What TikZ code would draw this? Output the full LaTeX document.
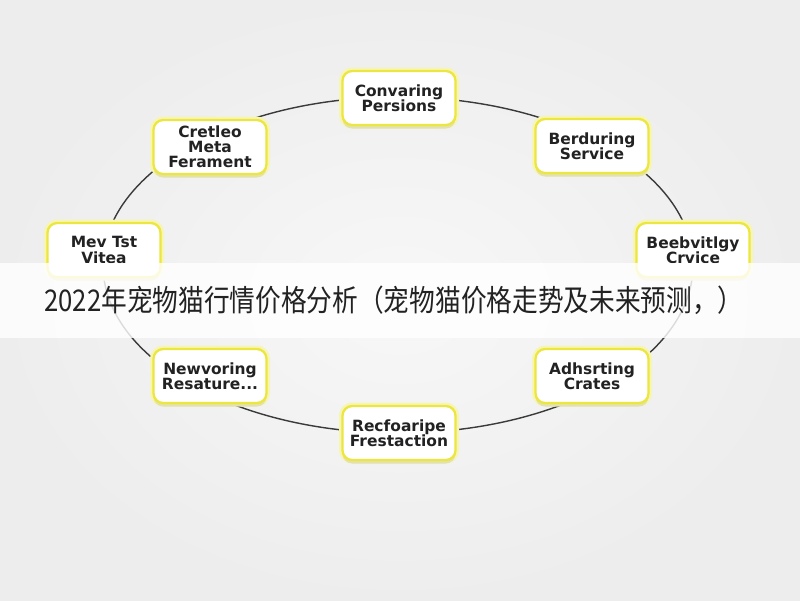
\documentclass[tikz,border=0pt]{standalone}
\usepackage{fontspec}
\setsansfont{DejaVu Sans}
\newfontfamily\cjk[FakeStretch=0.86]{Noto Sans CJK SC}
\usepackage{xcolor}
\usepackage{tikz}
\usetikzlibrary{shadows}

\definecolor{boxedge}{RGB}{236,230,64}
\definecolor{boxglow}{RGB}{247,245,180}
\definecolor{ringline}{RGB}{58,58,58}
\definecolor{inktext}{RGB}{34,34,34}

\tikzset{
  card/.style={rectangle, rounded corners=5.5pt, fill=white,
    draw=boxedge, line width=1.3pt,
    preaction={draw=boxglow, line width=4pt},
    drop shadow={opacity=0.16, shadow xshift=0pt, shadow yshift=-2pt},
    minimum width=2.26cm, minimum height=1.08cm, inner sep=2pt,
    align=center, text=inktext,
    font=\sffamily\bfseries\fontsize{8.8}{8.6}\selectfont}
}

\begin{document}
\begin{tikzpicture}[x=0.02cm, y=-0.02cm]
  % Backdrop
  \useasboundingbox (0,0) rectangle (800,600);
  \shade[inner color=black!3, outer color=black!7] (0,0) rectangle (800,600);

  % Ring behind the steps
  \coordinate (hub) at (398,265);
  \draw[ringline, line width=0.8pt] (hub) ellipse [x radius=295, y radius=168];

  % Steps around the ring
  \foreach \spot/\name/\txt in {
      {399,98}/conv/{Convaring\\Persions},
      {592,146}/berd/{Berduring\\Service},
      {693,250}/best/{Beebvitlgy\\Crvice},
      {592,376}/adhs/{Adhsrting\\Crates},
      {399,433}/refo/{Recfoaripe\\Frestaction},
      {210,376}/neuw/{Newvoring\\Resature...},
      {104,250}/newt/{Mev Tst\\Vitea},
      {210,147}/crea/{Cretleo\\Meta\\Ferament}} {
    \node[card] (\name) at (\spot) {\txt};
  }

  % Title band
  \fill[white, opacity=0.82] (0,263) rectangle (800,338);
  \node[font=\cjk\fontsize{17}{17}\selectfont, text=inktext] (title) at (394,300)
    {2022年宠物猫行情价格分析（宠物猫价格走势及未来预测，）};
\end{tikzpicture}
\end{document}
